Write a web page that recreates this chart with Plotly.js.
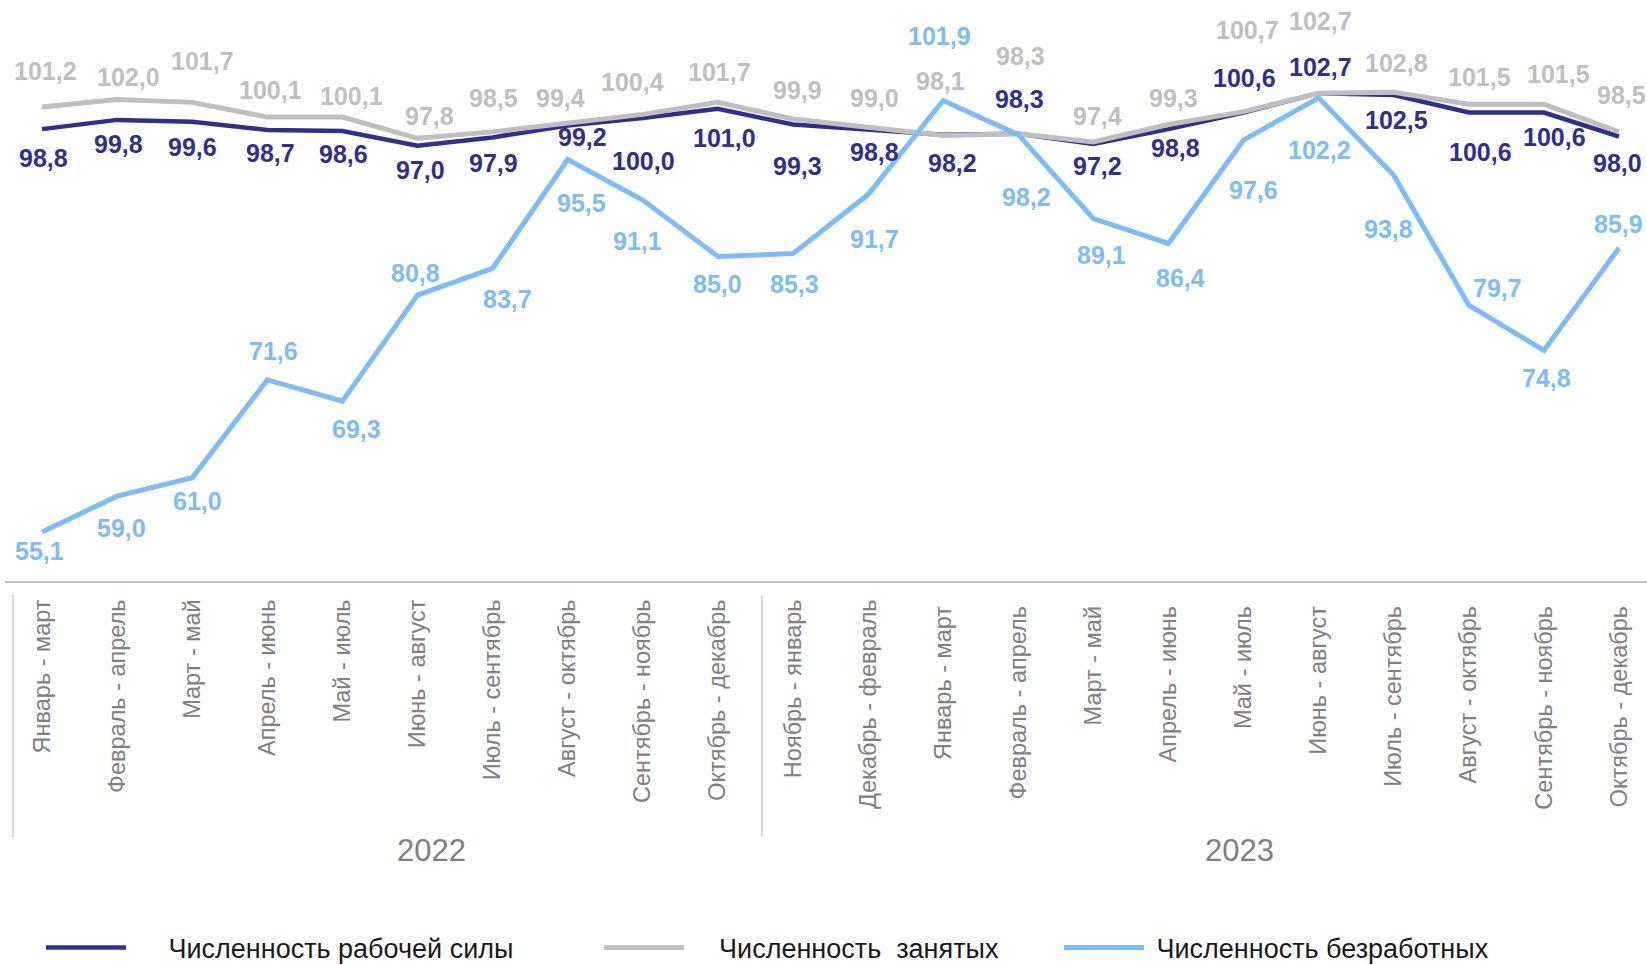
<!DOCTYPE html>
<html>
<head>
<meta charset="utf-8">
<script src="https://cdn.plot.ly/plotly-3.0.1.min.js"></script>
<style>html,body{margin:0;padding:0;background:#fff;}#chart{width:1647px;height:965px;}</style>
</head>
<body>
<div id="chart"></div>
<script>
// ---- data ----
const categories = [
  "Январь - март", "Февраль - апрель", "Март - май", "Апрель - июнь", "Май - июль",
  "Июнь - август", "Июль - сентябрь", "Август - октябрь", "Сентябрь - ноябрь", "Октябрь - декабрь",
  "Ноябрь - январь", "Декабрь - февраль", "Январь - март ", "Февраль - апрель ", "Март - май ",
  "Апрель - июнь ", "Май - июль ", "Июнь - август ", "Июль - сентябрь ", "Август - октябрь ",
  "Сентябрь - ноябрь ", "Октябрь - декабрь "
];
const years = ["2022", "2023"];
const seriesNames = ["Численность рабочей силы", "Численность  занятых", "Численность безработных"];
const laborForce = [98.8, 99.8, 99.6, 98.7, 98.6, 97.0, 97.9, 99.2, 100.0, 101.0, 99.3, 98.8, 98.2, 98.3, 97.2, 98.8, 100.6, 102.7, 102.5, 100.6, 100.6, 98.0];
const employed   = [101.2, 102.0, 101.7, 100.1, 100.1, 97.8, 98.5, 99.4, 100.4, 101.7, 99.9, 99.0, 98.1, 98.3, 97.4, 99.3, 100.7, 102.7, 102.8, 101.5, 101.5, 98.5];
const unemployed = [55.1, 59.0, 61.0, 71.6, 69.3, 80.8, 83.7, 95.5, 91.1, 85.0, 85.3, 91.7, 101.9, 98.2, 89.1, 86.4, 97.6, 102.2, 93.8, 79.7, 74.8, 85.9];

// ---- label placement (pixel offsets of value labels: [dx, dy], dy positive = downward) ----
const labelOffsetsLabor = [[1,29],[1,24],[0,25],[3,23],[1,23],[3,24],[1,26],[15,12],[1,43],[7,29],[5,41],[6,23],[9,28],[1,-35],[4,22],[7,19],[1,-35],[2,-26],[3,25],[12,39],[11,24],[-1,27]];
const labelOffsetsEmployed = [[3,-36],[11,-23],[10,-41],[3,-27],[9,-21],[12,-22],[1,-34],[-7,-26],[-10,-32],[2,-30],[5,-29],[6,-29],[-3,-55],[2,-78],[4,-26],[5,-27],[4,-82],[2,-72],[3,-29],[11,-27],[15,-30],[3,-37]];
const labelOffsetsUnemployed = [[-3,19],[4,32],[5,23],[6,-29],[14,28],[-2,-22],[15,31],[14,43],[-5,41],[0,28],[2,30],[6,44],[-4,-65],[8,62],[8,36],[12,35],[10,50],[1,52],[-5,54],[29,-17],[3,28],[0,-24]];

// ---- styles ----
const colLabor = "#302e8f";
const colEmployed = "#bfbfbf";
const colUnemployed = "#7dbcfb";
const FONT = "'Liberation Sans', Arial, sans-serif";
const legendGaps = ["\u00a0\u00a0\u00a0\u00a0\u00a0", "\u00a0\u00a0\u00a0\u00a0", "\u00a0"];

const traces = [
  {x: categories, y: laborForce, name: legendGaps[0] + seriesNames[0], type: "scatter", mode: "lines",
   line: {color: colLabor, width: 4.5}, legend: "legend", hoverinfo: "skip"},
  {x: categories, y: employed, name: legendGaps[1] + seriesNames[1], type: "scatter", mode: "lines",
   line: {color: colEmployed, width: 5}, legend: "legend2", hoverinfo: "skip"},
  {x: categories, y: unemployed, name: legendGaps[2] + seriesNames[2], type: "scatter", mode: "lines",
   line: {color: colUnemployed, width: 5}, legend: "legend3", hoverinfo: "skip"}
];

function fmt(v) { return v.toFixed(1).replace(".", ","); }

const annotations = [];
function addLabels(vals, offs, color) {
  vals.forEach((v, i) => {
    annotations.push({
      x: categories[i], y: v, xref: "x", yref: "y", text: fmt(v), showarrow: false,
      xanchor: "center", yanchor: "middle", xshift: offs[i][0], yshift: -offs[i][1],
      font: {family: FONT, size: 25, color: color, weight: "bold"}
    });
  });
}
addLabels(laborForce, labelOffsetsLabor, colLabor);
addLabels(employed, labelOffsetsEmployed, colEmployed);
addLabels(unemployed, labelOffsetsUnemployed, colUnemployed);

// year group labels
annotations.push({x: 5.19, y: -0.463, xref: "x", yref: "paper", text: years[0], showarrow: false,
  xanchor: "center", yanchor: "middle", font: {family: FONT, size: 31, color: "#808080"}});
annotations.push({x: 15.95, y: -0.463, xref: "x", yref: "paper", text: years[1], showarrow: false,
  xanchor: "center", yanchor: "middle", font: {family: FONT, size: 31, color: "#808080"}});

const dividerStyle = {color: "#c8c8c8", width: 1.5};
const shapes = [
  {type: "line", xref: "x", yref: "paper", x0: -0.386, x1: -0.386, y0: -0.0241, y1: -0.4406, line: dividerStyle},
  {type: "line", xref: "x", yref: "paper", x0: 9.587, x1: 9.587, y0: -0.0241, y1: -0.4406, line: dividerStyle}
];

const legendBase = {orientation: "h", yanchor: "top", xanchor: "left", yref: "container", y: 0.043,
  font: {family: FONT, size: 27, color: "#1a1a1a"}, bgcolor: "rgba(0,0,0,0)", itemwidth: 80,
  itemclick: false, itemdoubleclick: false};

const layout = {
  width: 1647, height: 965,
  margin: {l: 5, r: 0, t: 0, b: 384, pad: 0},
  paper_bgcolor: "#ffffff", plot_bgcolor: "#ffffff",
  font: {family: FONT},
  showlegend: true,
  xaxis: {type: "category", range: [-0.493, 21.373], showline: true, linecolor: "#bfbfbf", linewidth: 2,
    showgrid: false, zeroline: false, ticks: "", tickangle: -90, ticklabelstandoff: 7, automargin: false,
    tickfont: {family: FONT, size: 23.5, color: "#808080"}, fixedrange: true},
  yaxis: {range: [49.8, 112.8], visible: false, showgrid: false, zeroline: false, fixedrange: true},
  legend: Object.assign({}, legendBase, {x: 0.0219}),
  legend2: Object.assign({}, legendBase, {x: 0.3618}),
  legend3: Object.assign({}, legendBase, {x: 0.6419}),
  annotations: annotations,
  shapes: shapes
};

Plotly.newPlot("chart", traces, layout, {displayModeBar: false, staticPlot: true});
</script>
</body>
</html>
